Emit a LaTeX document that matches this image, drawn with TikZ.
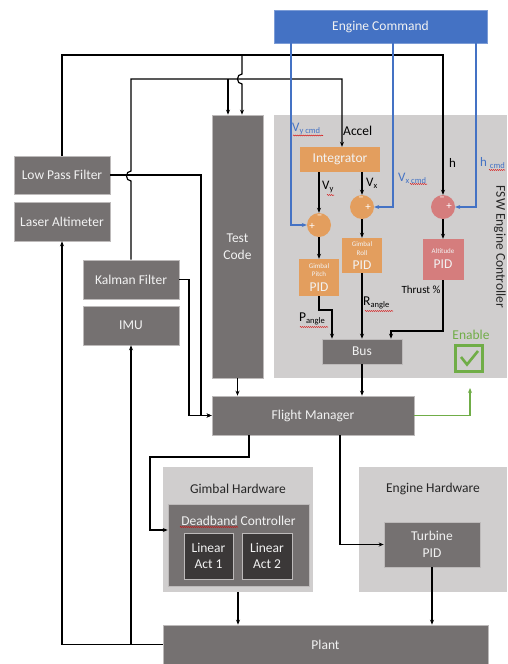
\documentclass[tikz,border=0pt]{standalone}
\usepackage{fontspec}
\setmainfont{Carlito}
\usetikzlibrary{arrows.meta,decorations.pathmorphing}
\definecolor{dgray}{HTML}{757171}
\definecolor{ddgray}{HTML}{3B3838}
\definecolor{lgray}{HTML}{D0CECE}
\definecolor{edgegray}{HTML}{BDBABA}
\definecolor{boxtxt}{HTML}{F2F2F2}
\definecolor{cmdblue}{HTML}{4472C4}
\definecolor{orng}{HTML}{E39E5E}
\definecolor{pnk}{HTML}{D57D7D}
\definecolor{grn}{HTML}{70AD47}
\definecolor{titletxt}{HTML}{262626}
\newcommand\fsz[1]{\fontsize{#1}{16.5}\selectfont}
\newcommand\sbs[1]{\raisebox{-2.2pt}{\fontsize{8.5}{8.5}\selectfont #1}}
\tikzset{
  box/.style={fill=dgray, draw=edgegray, line width=0.6pt, text=boxtxt,
    font=\fsz{13.5}, inner sep=0pt, align=center},
  darkbox/.style={box, fill=ddgray},
  area/.style={fill=lgray, draw=none},
  orbox/.style={fill=orng, draw=none, inner sep=0pt},
  pkbox/.style={fill=pnk, draw=none, inner sep=0pt},
  sumnode/.style={circle, minimum size=24pt, inner sep=0pt, draw=none},
  wire/.style={line width=1.2pt, black},
  arr/.style={wire, -{Stealth[length=5pt,width=4pt]}},
  barr/.style={line width=1.3pt, cmdblue, -{Stealth[length=5pt,width=4pt]}},
  garr/.style={line width=1.2pt, grn, -{Stealth[length=5pt,width=4pt]}},
  lbl/.style={inner sep=0pt, font=\fsz{13}},
  blbl/.style={lbl, text=cmdblue},
  sign/.style={inner sep=0pt, text=white, font=\fsz{11}},
  tiny/.style={inner sep=0pt, text=boxtxt, font=\fontsize{7}{7}\selectfont},
  pidtxt/.style={inner sep=0pt, text=boxtxt, font=\fontsize{13.5}{13.5}\selectfont},
  title/.style={inner sep=0pt, text=titletxt, font=\fsz{13.5}},
  squig/.style={red!85!black, line width=0.5pt,
    decorate, decoration={snake, amplitude=0.5pt, segment length=2pt}},
}
\begin{document}
\begin{tikzpicture}[x=1pt,y=-1pt]
\useasboundingbox (0,0) rectangle (507,664);
\fill[white] (0,0) rectangle (507,664);

% grouping areas
\fill[area] (274,115) rectangle (507,378);
\fill[area] (163,467) rectangle (313,592);
\fill[area] (359,467) rectangle (507,592);

% blocks
\node[box, fill=cmdblue, draw=cmdblue!70!white, minimum width=213pt, minimum height=33pt] (cmd) at (380.5,26.5) {Engine Command};
\node[box, minimum width=96pt, minimum height=38pt] (lpf) at (62,175) {Low Pass Filter};
\node[box, minimum width=96pt, minimum height=39pt] (laser) at (62,221.5) {Laser Altimeter};
\node[box, minimum width=96pt, minimum height=39pt] (kalman) at (131,279.5) {Kalman Filter};
\node[box, minimum width=96pt, minimum height=39pt] (imu) at (131,325.5) {IMU};
\node[box, minimum width=51pt, minimum height=263pt] (test) at (237.5,246.5) {Test\\Code};
\node[box, minimum width=202pt, minimum height=39pt] (fm) at (313,415.5) {Flight Manager};
\node[box, minimum width=80pt, minimum height=25pt] (bus) at (362,351.5) {Bus};
\node[box, minimum width=325pt, minimum height=39pt] (plant) at (325.5,644.5) {Plant};

% controller internals
\node[orbox, minimum width=80pt, minimum height=25pt, text=boxtxt, font=\fsz{13.5}] (integ) at (340,159.5) {Integrator};
\node[sumnode, fill=orng] (sy) at (319,225) {};
\node[sumnode, fill=orng] (sx) at (362,207) {};
\node[sumnode, fill=pnk] (sh) at (443,207) {};
\node[orbox, minimum width=40pt, minimum height=37pt] (pitch) at (319,277.5) {};
\node[orbox, minimum width=40pt, minimum height=35pt] (roll) at (362,255.5) {};
\node[pkbox, minimum width=41pt, minimum height=41pt] (alt) at (443,259.5) {};

\node[tiny] at (319,266) {Gimbal};
\node[tiny] at (319,274.5) {Pitch};
\node[pidtxt] at (319,287.5) {PID};
\node[tiny] at (362,244) {Gimbal};
\node[tiny] at (362,253) {Roll};
\node[pidtxt] at (362,265) {PID};
\node[tiny] at (443,251) {Altitude};
\node[pidtxt] at (443,264) {PID};

\node[sign] at (312,226) {+};
\node[sign] at (319.5,216.5) {–};
\node[sign] at (361,198.5) {–};
\node[sign] at (368,207) {+};
\node[sign] at (442,198.5) {–};
\node[sign] at (449,206) {+};

% hardware
\node[box, minimum width=141pt, minimum height=82pt] (dead) at (238.5,545) {};
\node[inner sep=0pt, text=boxtxt, font=\fsz{13.5}] at (238.5,521) {Deadband Controller};
\node[darkbox, minimum width=49pt, minimum height=46pt] (act1) at (208.5,556) {Linear\\Act 1};
\node[darkbox, minimum width=50pt, minimum height=46pt] (act2) at (267,556) {Linear\\Act 2};
\node[box, minimum width=96pt, minimum height=45pt] (turb) at (432,544.5) {Turbine\\PID};
\node[title] (ghw) at (238,489) {Gimbal Hardware};
\node[title] at (433,489) {Engine Hardware};
\coordinate (ghwb) at (238,592);

% enable indicator
\node[inner sep=0pt, text=grn, font=\fsz{13.5}] at (471,335) {Enable};
\draw[grn, line width=2.6pt] (455.5,345.5) rectangle (482.5,371.5);
\draw[grn, line width=2.6pt] (461,357) -- (467,364.5) -- (478,351);

\node[title, rotate=-90] at (500,247) {FSW Engine Controller};

% feedback buses along the top
\coordinate (hx) at (443,55);
\coordinate (ax) at (342,79);
\coordinate (b1) at (242,55);
\coordinate (b2) at (228,79);
\draw[arr] (lpf.north) |- (hx) -- (sh.north);
\draw[arr] (b1) -- (242,74) .. controls (236,74) and (236,84) .. (242,84) -- (b1 |- test.north);
\draw[arr] (kalman.north) -- (131,181) .. controls (125,181) and (125,171) .. (131,171) |- (ax) -- (ax |- integ.north);
\draw[arr] (b2) -- (b2 |- test.north);

% sensor paths into the flight manager
\draw[arr] (lpf.east) -| (201,415.5) -- (fm.west);
\draw[arr] (kalman.east) -| (189,415.5) -- (fm.west);

% plant feedback to the sensors
\draw[arr] (plant.west) -| (laser.south);
\draw[arr] (imu.south |- plant.west) -- (imu.south);

% into and out of the flight manager
\draw[arr] (test.south) -- (test.south |- fm.north);
\draw[arr] (bus.south) -- (bus.south |- fm.north);
\coordinate (en) at (470,388);
\draw[garr] (fm.east) -| (en);
\draw[arr] ([xshift=-64pt]fm.south) |- (150,457) |- ([yshift=15pt]dead.west);
\draw[arr] ([xshift=27pt]fm.south) |- (turb.west);
\draw[arr] (ghwb) -- (ghwb |- plant.north);
\draw[arr] (turb.south) -- (turb.south |- plant.north);

% commands
\coordinate (c1) at (291,0);
\coordinate (c2) at (393,0);
\coordinate (c3) at (476,0);
\draw[barr] (cmd.south -| c1) |- (sy.west);
\draw[barr] (cmd.south -| c2) |- (sx.east);
\draw[barr] (cmd.south -| c3) |- (sh.east);

% controller signal flow
\draw[arr] (sy.north |- integ.south) -- (sy.north);
\draw[arr] (sx.north |- integ.south) -- (sx.north);
\draw[arr] (sy.south) -- (pitch.north);
\draw[arr] (sx.south) -- (roll.north);
\draw[arr] (sh.south) -- (sh.south |- alt.north);
\coordinate (pb) at (332,310);
\coordinate (ab) at (391,331);
\draw[arr] (pitch.south) |- (pb) -- (pb |- bus.north);
\draw[arr] (roll.south) -- (roll.south |- bus.north);
\draw[arr] (sh.south |- alt.south) |- (ab) -- (ab |- bus.north);

% signal labels
\node[blbl, anchor=west] at (292,129) {V\sbs{y cmd}};
\node[lbl, anchor=west, font=\fsz{13.5}] at (343,131) {Accel};
\node[lbl, anchor=west] at (322,187) {V\sbs{y}};
\node[lbl, anchor=west] at (366,183) {V\sbs{x}};
\node[blbl, anchor=west] at (398,178) {V\sbs{x cmd}};
\node[lbl, anchor=west] at (449,163) {h};
\node[blbl, anchor=west] at (480,163) {h \sbs{cmd}};
\node[lbl, anchor=west, font=\fsz{13.5}] at (299,319) {P\sbs{angle}};
\node[lbl, anchor=west, font=\fsz{13.5}] at (363,303) {R\sbs{angle}};
\node[lbl, font=\fsz{11}] at (421,290) {Thrust \%};

% spelling marks
\draw[squig] (293,135.5) -- (323,135.5);
\draw[squig] (327,195) -- (334,195);
\draw[squig] (410,184) -- (427,184);
\draw[squig] (489,170) -- (505,170);
\draw[squig] (300,327) -- (328,327);
\draw[squig] (365,311) -- (393,311);
\draw[squig] (180,527) -- (238,527);
\end{tikzpicture}
\end{document}
